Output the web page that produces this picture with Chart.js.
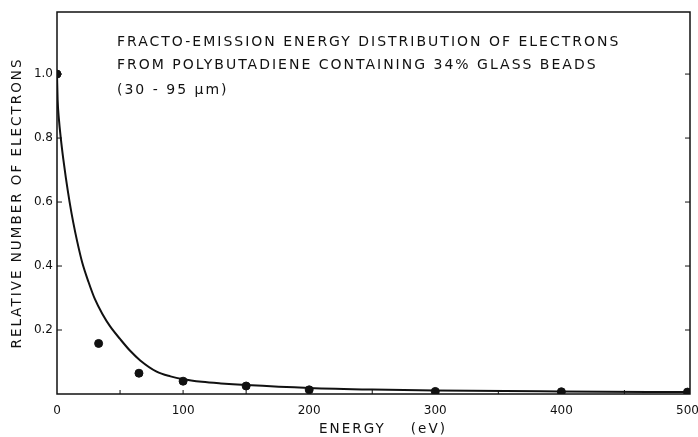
<!DOCTYPE html>
<html>
<head>
<meta charset="utf-8">
<style>
    html, body { margin: 0; padding: 0; background: #fff; }
    #wrap { width: 698px; height: 437px; }
</style>
<script src="https://cdn.jsdelivr.net/npm/chart.js@4/dist/chart.umd.min.js"></script>
</head>
<body>
<div id="wrap"><canvas id="chart"></canvas></div>
<script>
// Measured points (energy in eV, relative number)
const energyPts = [0, 33, 65, 100, 150, 200, 300, 400, 500];
const electronPts = [1.0, 0.158, 0.065, 0.04, 0.025, 0.013, 0.008, 0.007, 0.006];

// Fitted curve
const curveEnergy = [0, 0.5, 1.5, 3, 5, 7, 10, 13, 16, 20, 25, 30, 36, 42, 50, 58, 66, 79, 90, 100, 115, 130, 150, 200, 250, 300, 400, 500];
const curveValues = [1.0, 0.92, 0.86, 0.8, 0.734, 0.676, 0.6, 0.534, 0.477, 0.411, 0.35, 0.297, 0.25, 0.212, 0.172, 0.135, 0.105, 0.07, 0.055, 0.046, 0.038, 0.033, 0.028, 0.019, 0.014, 0.011, 0.008, 0.006];

// Axis ticks
const xTicks = [0, 100, 200, 300, 400, 500];
const yTicks = [0.2, 0.4, 0.6, 0.8, 1.0];
const xMinor = [50, 100, 150, 200, 250, 300, 350, 400, 450];

// Texts
const titleLines = [
    "FRACTO-EMISSION ENERGY DISTRIBUTION OF ELECTRONS",
    "FROM POLYBUTADIENE CONTAINING 34% GLASS BEADS",
    "(30 - 95 \u03bcm)"
];
const xTitle = "ENERGY    (eV)";
const yTitle = "RELATIVE NUMBER OF ELECTRONS";

const ink = "#111";
const fontFamily = "'DejaVu Sans', sans-serif";

// frame, inward ticks, in-plot title and axis titles
const decorPlugin = {
    id: "decor",
    afterDraw(chart) {
        const ctx = chart.ctx;
        const area = chart.chartArea;
        const xs = chart.scales.x;
        const ys = chart.scales.y;
        ctx.save();
        ctx.strokeStyle = ink;
        ctx.lineWidth = 1.5;
        ctx.strokeRect(area.left, area.top, area.right - area.left, area.bottom - area.top);

        // inward ticks
        ctx.lineWidth = 1;
        ctx.beginPath();
        xMinor.forEach(v => {
            const px = xs.getPixelForValue(v);
            ctx.moveTo(px, area.bottom);
            ctx.lineTo(px, area.bottom - 4);
        });
        yTicks.forEach(v => {
            const py = ys.getPixelForValue(v);
            ctx.moveTo(area.left, py);
            ctx.lineTo(area.left + 5, py);
            ctx.moveTo(area.right, py);
            ctx.lineTo(area.right - 5, py);
        });
        ctx.stroke();

        // title inside the plot
        ctx.fillStyle = ink;
        ctx.font = "14px " + fontFamily;
        ctx.letterSpacing = "2px";
        ctx.textBaseline = "middle";
        ctx.textAlign = "left";
        const lineY = [42, 65, 90];
        titleLines.forEach((t, i) => ctx.fillText(t, area.left + 60, lineY[i]));

        // axis titles
        ctx.font = "13.5px " + fontFamily;
        ctx.textAlign = "center";
        ctx.fillText(xTitle, 383, 429);
        ctx.translate(17, (area.top + area.bottom) / 2);
        ctx.rotate(-Math.PI / 2);
        ctx.fillText(yTitle, 0, 0);
        ctx.restore();
    }
};

const config = {
    type: "scatter",
    data: {
        datasets: [
            {
                label: "Measured",
                data: energyPts.map((e, i) => ({ x: e, y: electronPts[i] })),
                backgroundColor: ink,
                borderColor: ink,
                pointRadius: 4,
                showLine: false
            },
            {
                label: "Fit",
                data: curveEnergy.map((e, i) => ({ x: e, y: curveValues[i] })),
                borderColor: ink,
                borderWidth: 2,
                pointRadius: 0,
                showLine: true,
                cubicInterpolationMode: "monotone"
            }
        ]
    },
    options: {
        responsive: true,
        maintainAspectRatio: false,
        animation: false,
        layout: {
            autoPadding: false,
            padding: { left: 0, right: 8, top: 12, bottom: 0 }
        },
        scales: {
            x: {
                type: "linear",
                min: 0,
                max: 502,
                afterBuildTicks: scale => { scale.ticks = xTicks.map(v => ({ value: v })); },
                afterFit: scale => {
                    scale.height = 43;
                    scale.paddingLeft = 0;
                    scale.paddingRight = 0;
                },
                grid: { display: false, drawTicks: false },
                border: { display: false },
                ticks: {
                    color: ink,
                    padding: 10,
                    maxRotation: 0,
                    font: { family: fontFamily, size: 12 }
                }
            },
            y: {
                min: 0,
                max: 1.194,
                afterBuildTicks: scale => { scale.ticks = yTicks.map(v => ({ value: v })); },
                afterFit: scale => {
                    scale.width = 57;
                    scale.paddingTop = 0;
                    scale.paddingBottom = 0;
                },
                grid: { display: false, drawTicks: false },
                border: { display: false },
                ticks: {
                    color: ink,
                    padding: 4,
                    font: { family: fontFamily, size: 12 },
                    callback: v => v.toFixed(1)
                }
            }
        },
        plugins: {
            legend: { display: false },
            tooltip: { enabled: false }
        }
    },
    plugins: [decorPlugin]
};

const chart = new Chart(document.getElementById("chart"), config);
</script>
</body>
</html>
